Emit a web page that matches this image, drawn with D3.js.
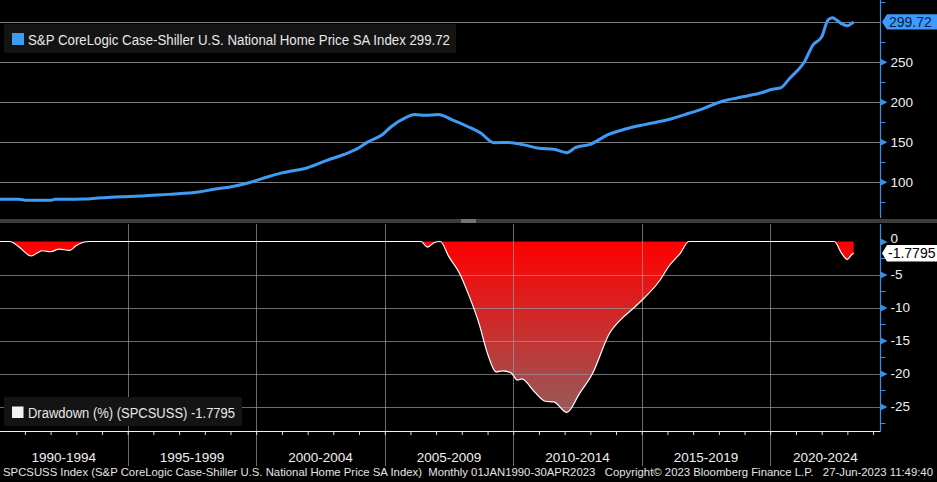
<!DOCTYPE html>
<html>
<head>
<meta charset="utf-8">
<script src="https://cdn.jsdelivr.net/npm/d3@7"></script>
<style>
  html, body { margin: 0; padding: 0; background: #000; }
  svg { display: block; font-family: "Liberation Sans", Arial, sans-serif; }
</style>
</head>
<body>
<div id="chart"></div>
<script>
// Index level, monthly points
const indexDates = ["1990-01","1990-10","1991-02","1992-01","1992-03","1993-05","1993-11","1994-10","1995-07","1996-05",
  "1996-11","1997-10","1998-06","1999-02","1999-10","2000-05","2001-01","2002-01","2002-10","2003-06",
  "2004-01","2004-05","2004-12","2005-04","2005-11","2006-03","2006-08","2007-02","2007-08","2008-04",
  "2008-10","2009-04","2009-11","2010-06","2011-01","2011-08","2012-02","2012-06","2013-01","2013-09",
  "2014-05","2015-03","2016-02","2016-11","2017-06","2018-03","2018-10","2019-08","2020-02","2020-06",
  "2020-10","2021-05","2021-09","2022-01","2022-04","2022-06","2022-10","2023-01","2023-04"];
const indexValues = [78.2,78,76.7,76.7,78,78.4,79.6,81.3,82,83.8,
  84.6,87,90.9,94,99,105,111,117.5,126.7,134,
  142.5,149.5,159,168.7,180.5,184,183,184,178,168.7,
  160.5,148.8,149,146,141.7,140.5,136.3,142.5,146.7,158.4,
  165.5,171.7,178,185.5,191.7,200.9,205,210.5,215.5,217.5,
  229,250,271,281,302,305,298,295,299.72];

// Drawdown (%) from the running peak
const drawdownDates = ["1990-01","1990-06","1990-10","1991-04","1991-07","1991-09","1992-01","1992-05","1992-10","1993-01",
  "1993-07","2006-06","2006-09","2006-12","2007-03","2007-07","2007-12","2008-04","2008-09","2009-01",
  "2009-05","2009-08","2009-12","2010-03","2010-05","2010-11","2011-04","2011-08","2012-02","2012-08",
  "2013-02","2013-10","2014-03","2014-09","2015-02","2015-09","2016-02","2016-07","2016-11","2022-07",
  "2022-10","2023-01","2023-03","2023-04"];
const drawdownValues = [0,0,-0.75,-2.2,-1.7,-1.4,-1.55,-1.15,-1.35,-0.6,
  0,0,-0.85,-0.2,0,-2.3,-4.85,-7.9,-12.4,-17,
  -19.75,-19.6,-19.9,-21,-20.8,-22.8,-24.2,-24.3,-25.9,-23,
  -20,-13.9,-11.9,-10.15,-8.6,-6.1,-3.6,-1.8,0,0,
  -1.6,-2.7,-2.0,-1.7795];

const topTicks = [100, 150, 200, 250, 300];
const topMinor = [75, 125, 175, 225, 275, 325];
const bottomTicks = [0, -5, -10, -15, -20, -25];
const bottomMinor = [-2.5, -7.5, -12.5, -17.5, -22.5, -27.5];
const periodStarts = [1990, 1995, 2000, 2005, 2010, 2015, 2020];
const periodLabels = ["1990-1994", "1995-1999", "2000-2004", "2005-2009", "2010-2014", "2015-2019", "2020-2024"];
const lastIndex = "299.72";
const lastDrawdown = "-1.7795";
const indexName = "S&P CoreLogic Case-Shiller U.S. National Home Price SA Index";
const drawdownName = "Drawdown (%) (SPCSUSS)";
const footer = "SPCSUSS Index (S&P CoreLogic Case-Shiller U.S. National Home Price SA Index)  Monthly 01JAN1990-30APR2023   Copyright\u00a9 2023 Bloomberg Finance L.P.   27-Jun-2023 11:49:40";

const width = 937, height = 482;
const axisX = 880.5;
const topPanel = { y0: 0, y1: 218 };
const botPanel = { y0: 224, y1: 431 };
const blue = "#3f9cf5";
const axisBlue = "#3a8ee6";

const parse = d3.timeParse("%Y-%m");
const indexData = indexDates.map((d, i) => ({ date: parse(d), value: indexValues[i] }));
const ddData = drawdownDates.map((d, i) => ({ date: parse(d), value: drawdownValues[i] }));

const svg = d3.select("#chart").append("svg")
  .attr("width", width)
  .attr("height", height);

svg.append("rect").attr("width", width).attr("height", height).attr("fill", "#000");

// scales
const x = d3.scaleTime()
  .domain([new Date(1990, 0, 1), new Date(2025, 0, 1)])
  .range([-0.8, 898.8]);

const yTop = d3.scaleLinear().domain([100, 300]).range([181.7, 21.7]);
const yBot = d3.scaleLinear().domain([0, -25]).range([241.5, 406.5]);

const defs = svg.append("defs");
defs.append("clipPath").attr("id", "clipTop")
  .append("rect").attr("x", 0).attr("y", topPanel.y0).attr("width", axisX).attr("height", topPanel.y1 - topPanel.y0);
defs.append("clipPath").attr("id", "clipBot")
  .append("rect").attr("x", 0).attr("y", botPanel.y0).attr("width", axisX).attr("height", botPanel.y1 - botPanel.y0);

const grad = defs.append("linearGradient")
  .attr("id", "ddFill")
  .attr("gradientUnits", "userSpaceOnUse")
  .attr("x1", 0).attr("x2", 0)
  .attr("y1", yBot(0)).attr("y2", yBot(-26));
grad.append("stop").attr("offset", "0%").attr("stop-color", "#ff0000");
grad.append("stop").attr("offset", "100%").attr("stop-color", "#965a5a");

// ---------- top panel ----------
svg.append("g").selectAll("line")
  .data(topTicks)
  .join("line")
  .attr("x1", 0).attr("x2", axisX)
  .attr("y1", d => Math.round(yTop(d)) + 0.5)
  .attr("y2", d => Math.round(yTop(d)) + 0.5)
  .attr("stroke", "#7c7c7c")
  .attr("stroke-width", 1);

const line = d3.line()
  .x(d => x(d.date))
  .y(d => yTop(d.value))
  .curve(d3.curveMonotoneX);

svg.append("path")
  .datum(indexData)
  .attr("clip-path", "url(#clipTop)")
  .attr("d", line)
  .attr("fill", "none")
  .attr("stroke", blue)
  .attr("stroke-width", 3)
  .attr("stroke-linejoin", "round");

// top legend
const legTop = svg.append("g");
legTop.append("rect")
  .attr("x", 4).attr("y", 24).attr("width", 452).attr("height", 29)
  .attr("rx", 2).attr("fill", "#141414");
legTop.append("rect")
  .attr("x", 12).attr("y", 33).attr("width", 12).attr("height", 12)
  .attr("fill", blue);
legTop.append("text")
  .attr("x", 28).attr("y", 44.5)
  .attr("fill", "#e8e8e8")
  .attr("font-size", 14)
  .attr("textLength", 422)
  .attr("lengthAdjust", "spacingAndGlyphs")
  .text(indexName + " " + lastIndex);

// right axis, top
const axisTop = svg.append("g")
  .attr("transform", `translate(${axisX},0)`)
  .call(d3.axisRight(yTop).tickValues(topTicks.slice(0, 4)).tickSize(0).tickPadding(10)
    .tickFormat(d => String(d)));
axisTop.select(".domain").remove();
axisTop.selectAll("text")
  .attr("fill", "#f0f0f0")
  .attr("font-size", 13.5)
  .attr("font-family", "Liberation Sans, Arial, sans-serif");
axisTop.selectAll(".tick").append("path")
  .attr("d", "M0,-3.5L7,0L0,3.5Z")
  .attr("fill", axisBlue);

svg.append("g").selectAll("line")
  .data(topMinor)
  .join("line")
  .attr("x1", axisX).attr("x2", axisX + 5)
  .attr("y1", d => Math.round(yTop(d)) + 0.5)
  .attr("y2", d => Math.round(yTop(d)) + 0.5)
  .attr("stroke", axisBlue);

svg.append("line")
  .attr("x1", axisX).attr("x2", axisX)
  .attr("y1", topPanel.y0).attr("y2", topPanel.y1)
  .attr("stroke", axisBlue).attr("stroke-width", 1.2);

// last value label
const lblTop = svg.append("g").attr("transform", `translate(882,${yTop(+lastIndex)})`);
lblTop.append("path")
  .attr("d", "M0,0L5,-7.7L55,-7.7L55,7.7L5,7.7Z")
  .attr("fill", "#3d9bff");
lblTop.append("text")
  .attr("x", 7).attr("y", 5)
  .attr("fill", "#06203f")
  .attr("font-size", 14)
  .text(lastIndex);

// ---------- divider ----------
svg.append("rect")
  .attr("x", 0).attr("y", 219).attr("width", width).attr("height", 4)
  .attr("fill", "#3c3c3c");
svg.append("line").attr("x1", 461).attr("x2", 476).attr("y1", 220).attr("y2", 220).attr("stroke", "#aaa");
svg.append("line").attr("x1", 461).attr("x2", 476).attr("y1", 222).attr("y2", 222).attr("stroke", "#aaa");

// ---------- bottom panel ----------
const area = d3.area()
  .x(d => x(d.date))
  .y0(yBot(0))
  .y1(d => yBot(d.value))
  .curve(d3.curveMonotoneX);

svg.append("path")
  .datum(ddData)
  .attr("clip-path", "url(#clipBot)")
  .attr("d", area)
  .attr("fill", "url(#ddFill)");

// horizontal gridlines over the fill
svg.append("g").selectAll("line")
  .data(bottomTicks.slice(1))
  .join("line")
  .attr("x1", 0).attr("x2", axisX)
  .attr("y1", d => Math.round(yBot(d)) + 0.5)
  .attr("y2", d => Math.round(yBot(d)) + 0.5)
  .attr("stroke", "#9a9a9a")
  .attr("stroke-opacity", 0.7);

// vertical gridlines every 5 years
svg.append("g").selectAll("line")
  .data(periodStarts.slice(1))
  .join("line")
  .attr("x1", d => Math.round(x(new Date(d, 0, 1))) + 0.5)
  .attr("x2", d => Math.round(x(new Date(d, 0, 1))) + 0.5)
  .attr("y1", botPanel.y0).attr("y2", 466)
  .attr("stroke", "#9a9a9a")
  .attr("stroke-opacity", 0.7);

const ddLine = d3.line()
  .x(d => x(d.date))
  .y(d => yBot(d.value))
  .curve(d3.curveMonotoneX);

svg.append("path")
  .datum(ddData)
  .attr("clip-path", "url(#clipBot)")
  .attr("d", ddLine)
  .attr("fill", "none")
  .attr("stroke", "#ffffff")
  .attr("stroke-width", 1.2);

// bottom legend
const legBot = svg.append("g");
legBot.append("rect")
  .attr("x", 4).attr("y", 397).attr("width", 238).attr("height", 29)
  .attr("rx", 2).attr("fill", "#141414");
legBot.append("rect")
  .attr("x", 12).attr("y", 406.5).attr("width", 11.5).attr("height", 11.5)
  .attr("fill", "#f4f4f4");
legBot.append("text")
  .attr("x", 28).attr("y", 418)
  .attr("fill", "#e8e8e8")
  .attr("font-size", 14)
  .attr("textLength", 207)
  .attr("lengthAdjust", "spacingAndGlyphs")
  .text(drawdownName + " " + lastDrawdown);

// right axis, bottom
const axisBot = svg.append("g")
  .attr("transform", `translate(${axisX},0)`)
  .call(d3.axisRight(yBot).tickValues(bottomTicks).tickSize(0).tickPadding(10)
    .tickFormat(d => String(d)));
axisBot.select(".domain").remove();
axisBot.selectAll("text")
  .attr("fill", "#f0f0f0")
  .attr("font-size", 13.5)
  .attr("font-family", "Liberation Sans, Arial, sans-serif");
axisBot.selectAll(".tick").append("path")
  .attr("d", "M0,-3.5L7,0L0,3.5Z")
  .attr("fill", axisBlue);
// the "0" label sits just above the last-value flag, as in the terminal
axisBot.selectAll(".tick").filter(d => d === 0).select("text").attr("dy", "0.1em");

svg.append("g").selectAll("line")
  .data(bottomMinor)
  .join("line")
  .attr("x1", axisX).attr("x2", axisX + 5)
  .attr("y1", d => Math.round(yBot(d)) + 0.5)
  .attr("y2", d => Math.round(yBot(d)) + 0.5)
  .attr("stroke", axisBlue);

svg.append("line")
  .attr("x1", axisX).attr("x2", axisX)
  .attr("y1", botPanel.y0).attr("y2", botPanel.y1)
  .attr("stroke", axisBlue).attr("stroke-width", 1.2);

const lblBot = svg.append("g").attr("transform", `translate(882,${yBot(+lastDrawdown)})`);
lblBot.append("path")
  .attr("d", "M0,0L5,-8.2L55,-8.2L55,8.2L5,8.2Z")
  .attr("fill", "#ffffff");
lblBot.append("text")
  .attr("x", 6).attr("y", 5.2)
  .attr("fill", "#000")
  .attr("font-size", 14)
  .text(lastDrawdown);

// ---------- time axis ----------
const xAxis = d3.axisBottom(x)
  .ticks(d3.timeYear.every(1))
  .tickSize(4)
  .tickFormat("");
const xg = svg.append("g")
  .attr("transform", `translate(0,${botPanel.y1})`)
  .call(xAxis);
xg.select(".domain").remove();
xg.selectAll(".tick line").attr("stroke", "#dcdcdc");
xg.selectAll(".tick").filter(d => x(d) > axisX || x(d) < 0).remove();

svg.append("line")
  .attr("x1", 0).attr("x2", axisX)
  .attr("y1", botPanel.y1 + 0.5).attr("y2", botPanel.y1 + 0.5)
  .attr("stroke", "#f0f0f0").attr("stroke-width", 1.2);

svg.append("g").selectAll("text")
  .data(periodStarts)
  .join("text")
  .attr("x", d => {
    const a = Math.max(0, x(new Date(d, 0, 1)));
    const b = Math.min(axisX, x(new Date(d + 5, 0, 1)));
    return (a + b) / 2;
  })
  .attr("y", 462)
  .attr("text-anchor", "middle")
  .attr("fill", "#f0f0f0")
  .attr("font-size", 13.5)
  .text((d, i) => periodLabels[i]);

// footer
svg.append("text")
  .attr("x", 3).attr("y", 476)
  .attr("fill", "#e4e4e4")
  .attr("font-size", 11.2)
  .attr("textLength", 930)
  .attr("lengthAdjust", "spacingAndGlyphs")
  .style("white-space", "pre")
  .text(footer);
</script>
</body>
</html>
